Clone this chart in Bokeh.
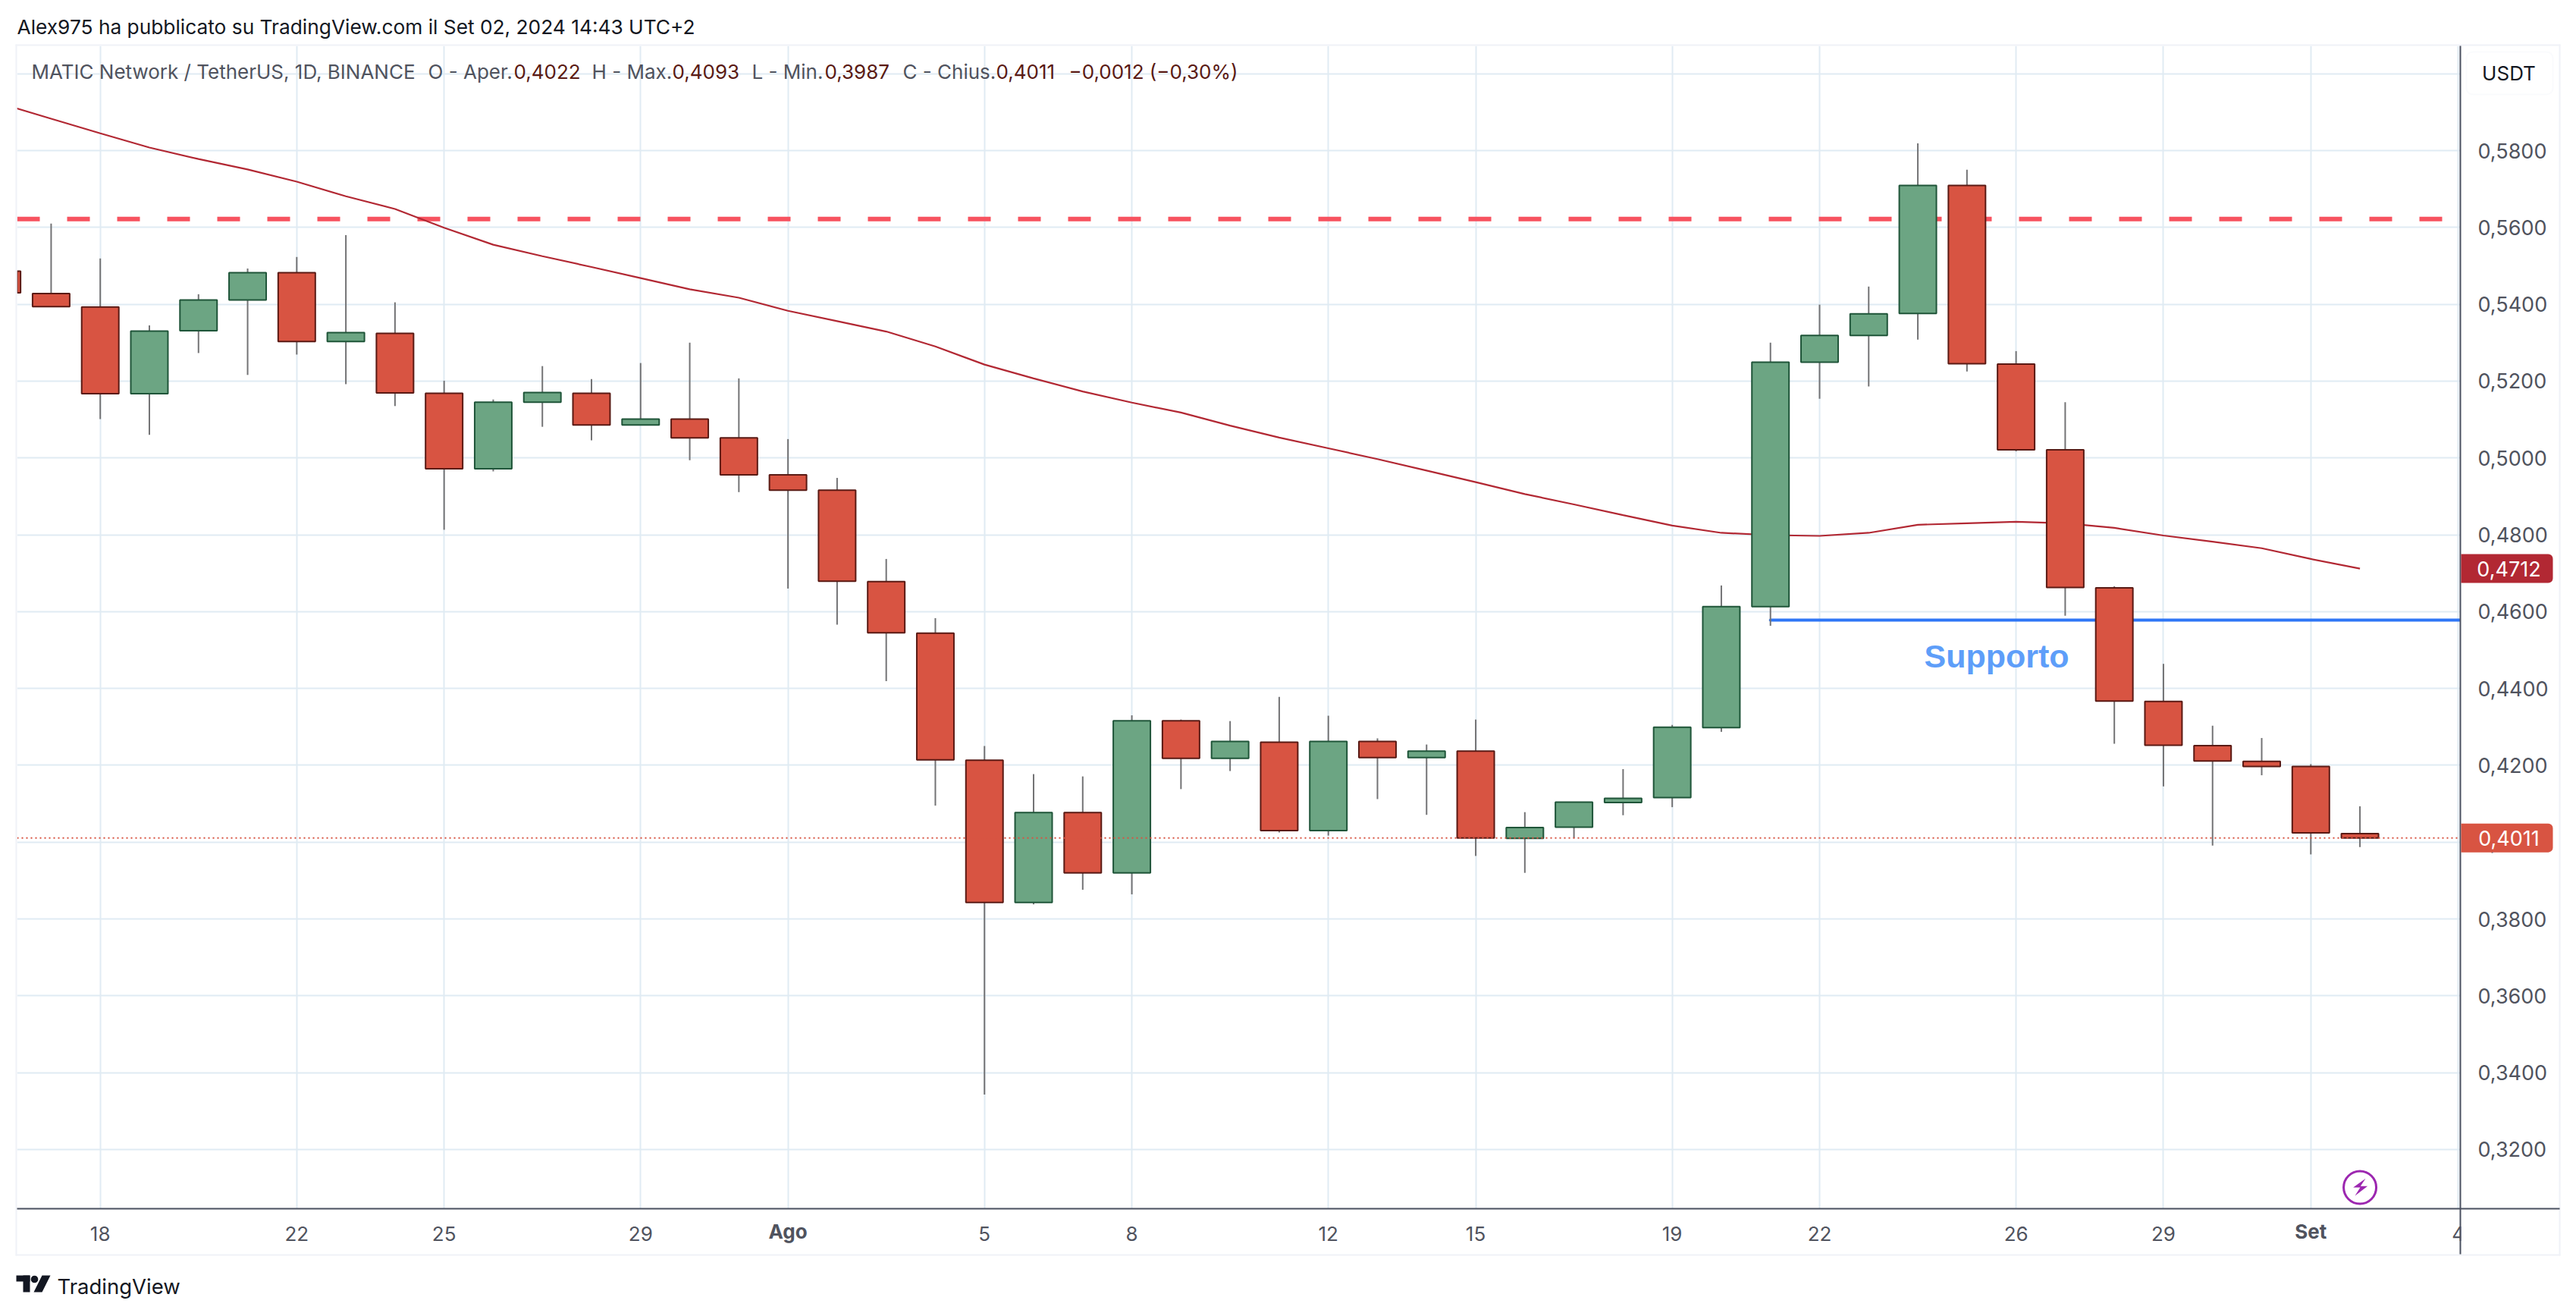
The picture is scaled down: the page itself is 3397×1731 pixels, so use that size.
import math
from bokeh.plotting import figure
from bokeh.layouts import column
from bokeh.models import FixedTicker, Grid, BoxAnnotation, LinearAxis, Range1d, ColumnDataSource
from bokeh.core.properties import value
from bokeh.embed import file_html
from bokeh.resources import INLINE

# ---- data ----
days = list(range(-2, 47))
opens = [.5486,.5428,.5393,.5167,.5331,.5411,.5482,.5303,.5324,.5168,.4972,.5145,.5168,.5086,.5101,.5052,.4956,.4916,.4678,.4544,.4213,.3843,.4077,.3920,.4316,.4218,.4260,.4030,.4262,.4220,.4237,.4010,.4039,.4103,.4116,.4298,.4613,.5249,.5319,.5376,.5709,.5244,.5021,.4662,.4366,.4251,.4210,.4197,.4022]
highs = [.5500,.5610,.5519,.5345,.5426,.5493,.5523,.5580,.5405,.5201,.5152,.5239,.5205,.5247,.5300,.5207,.5049,.4948,.4737,.4583,.4250,.4177,.4171,.4330,.4319,.4315,.4378,.4329,.4270,.4254,.4319,.4078,.4104,.4190,.4305,.4668,.5300,.5399,.5446,.5819,.5750,.5278,.5145,.4666,.4464,.4303,.4271,.4203,.4093]
lows = [.5430,.5394,.5101,.5060,.5273,.5216,.5269,.5192,.5135,.4813,.4965,.5081,.5046,.5086,.4994,.4911,.4660,.4566,.4419,.4095,.3343,.3838,.3876,.3864,.4138,.4185,.4025,.4017,.4112,.4071,.3964,.3920,.4010,.4070,.4091,.4287,.4563,.5154,.5186,.5308,.5225,.5017,.4589,.4256,.4145,.3991,.4174,.3968,.3987]
closes = [.5430,.5394,.5167,.5330,.5411,.5482,.5303,.5326,.5169,.4972,.5145,.5170,.5086,.5101,.5052,.4956,.4916,.4679,.4545,.4214,.3843,.4077,.3920,.4316,.4218,.4262,.4030,.4262,.4220,.4237,.4011,.4038,.4104,.4114,.4299,.4613,.5249,.5319,.5375,.5709,.5245,.5021,.4663,.4367,.4252,.4211,.4197,.4024,.4011]
ma_days = [-2,-1,0,1,2,3,4,5,6,7,8,9,10,11,12,13,14,15,16,17,18,19,20,21,22,23,24,25,26,27,28,29,30,31,32,33,34,35,36,37,38,39,40,41,42,43,44,45,46]
ma_vals = [.5921,.5883,.5845,.5808,.5778,.5751,.5719,.5681,.5648,.5599,.5555,.5525,.5497,.5468,.5439,.5417,.5383,.5356,.5329,.5290,.5243,.5207,.5173,.5144,.5118,.5084,.5053,.5025,.4997,.4967,.4937,.4906,.4879,.4851,.4824,.4805,.4799,.4797,.4805,.4826,.4830,.4834,.4830,.4818,.4798,.4782,.4765,.4737,.4712]
resistance = .5622
support = .4578
support_start = 34
last_price = .4011
ma_last = .4712
grid_y = [.32,.34,.36,.38,.40,.42,.44,.46,.48,.50,.52,.54,.56,.58,.60]
y_ticks = [.32,.34,.36,.38,.40,.42,.44,.46,.48,.50,.52,.54,.56,.58]
y_labels = ["0,%04d" % round(v * 10000) for v in y_ticks]
x_ticks = {0:"18",4:"22",7:"25",11:"29",18:"5",21:"8",25:"12",28:"15",32:"19",35:"22",39:"26",42:"29",48:"4"}
x_bold = {14:"Ago",45:"Set"}

FONT = "Inter"
W, H = 3381, 1715
RED, RED_B = "#d85442", "#5a1a14"
GREEN, GREEN_B = "#6ca583", "#1f5539"
GRID = "#e0ebf3"
BORDER = "#f0f2f7"
AXIS = "#4a5060"
TEXT = "#50535e"
DARK = "#131722"

L, R, T, B = 22, 3244, 60, 1593   # pane edges in page pixels

def vy(px): return .58 - (px - 198) / 5065
def py(v): return 198 + (.58 - v) * 5065
def dx(px): return (px - 131.7) / 64.78
def pd(d): return 131.7 + 64.78 * d

# ---- the chart itself ----
p = figure(width=W, height=H, output_backend="svg", toolbar_location=None, frame_align=False,
           x_range=Range1d(dx(L), dx(R)), y_range=Range1d(vy(B), vy(T)),
           min_border_left=L, min_border_right=W - R, min_border_top=T, min_border_bottom=H - B,
           x_axis_location=None, y_axis_location=None, background_fill_color="white", outline_line_color=None)
p.grid.visible = False

all_x = sorted(list(x_ticks) + list(x_bold))
p.add_layout(Grid(dimension=0, ticker=FixedTicker(ticks=all_x), grid_line_color=GRID, grid_line_width=2))
p.add_layout(Grid(dimension=1, ticker=FixedTicker(ticks=grid_y), grid_line_color=GRID, grid_line_width=2))

xa = LinearAxis(ticker=FixedTicker(ticks=list(x_ticks)), major_label_overrides={k: v for k, v in x_ticks.items()},
                axis_line_color=None, major_tick_line_color=None, minor_tick_line_color=None,
                major_label_standoff=17, major_label_text_font=FONT, major_label_text_font_size="26px",
                major_label_text_color=TEXT)
p.add_layout(xa, "below")
ya = LinearAxis(ticker=FixedTicker(ticks=y_ticks), major_label_overrides=dict(zip(y_ticks, y_labels)),
                axis_line_color=None, major_tick_line_color=None, minor_tick_line_color=None,
                major_label_standoff=17, major_label_text_font=FONT, major_label_text_font_size="27px",
                major_label_text_color=TEXT)
p.add_layout(ya, "right")

p.line([dx(L), dx(R)], [resistance, resistance], line_color="#f7525f", line_width=6, line_dash="30 36")
p.line(ma_days, ma_vals, line_color="#b22833", line_width=2.2)
p.line([support_start, dx(R)], [support, support], line_color="#2e76f6", line_width=4, line_cap="round")

up = [c >= o for o, c in zip(opens, closes)]
src = ColumnDataSource(dict(x=days, o=opens, h=highs, l=lows, c=closes,
                            top=[max(a, b) for a, b in zip(opens, closes)],
                            bot=[min(a, b) for a, b in zip(opens, closes)],
                            fill=[GREEN if u else RED for u in up],
                            edge=[GREEN_B if u else RED_B for u in up]))
p.segment("x", "h", "x", "l", source=src, line_color="#737375", line_width=2)
p.vbar("x", 0.756, "bot", "top", source=src, fill_color="fill", line_color="edge", line_width=2)

p.line([dx(L), dx(R)], [last_price, last_price], line_color="#d85442", line_width=2, line_dash="2 4")

p.text([dx(2537)], [vy(864)], text=["Supporto"], text_font=value("Liberation Sans"), text_font_style="bold",
       text_font_size="43px", text_color="#5e9ef9", text_align="left", text_baseline="middle")

# ---- a transparent sheet over it, in page pixels, for everything around the pane ----
c = figure(width=W, height=H, output_backend="svg", toolbar_location=None, frame_align=False,
           x_range=Range1d(0, W), y_range=Range1d(H, 0),
           min_border_left=0, min_border_right=0, min_border_top=0, min_border_bottom=0,
           x_axis_location=None, y_axis_location=None, outline_line_color=None,
           background_fill_alpha=0, border_fill_alpha=0, margin=(-H, 0, 0, 0))
c.grid.visible = False

def box(l, r, t, b, color, radius=0, line=None, lw=0):
    c.add_layout(BoxAnnotation(left=l, right=r, top=t, bottom=b, fill_color=color, fill_alpha=1, level="underlay",
                               line_color=line, line_width=lw, border_radius=radius, editable=False))

def label(x, y, text, color=TEXT, size=26, align="left", bold=False):
    c.text([x], [y], text=[text], text_color=color, text_font=value(FONT), text_font_size=f"{size}px",
           text_align=align, text_baseline="middle", text_font_style="bold" if bold else "normal")

def poly(points, color):
    c.patch([a for a, b in points], [b for a, b in points], fill_color=color, line_color=None)

box(3245, 3374, 1594, 1653, "white")
box(20, 3376, 58, 60, BORDER)
box(20, 3376, 1653, 1655, BORDER)
box(20, 22, 58, 1655, BORDER)
box(3374, 3376, 58, 1655, BORDER)
box(3243, 3245, 60, 1653, AXIS)
box(22, 3375, 1592, 1594, AXIS)

box(3245, 3366, py(ma_last) - 19, py(ma_last) + 19, "#b22833", radius=(0, 6, 6, 0))
label(3308, py(ma_last), "0,4712", "white", size=27, align="center")
box(3245, 3366, py(last_price) - 19, py(last_price) + 19, "#d85442", radius=(0, 6, 6, 0))
label(3308, py(last_price), "0,4011", "white", size=27, align="center")

box(3252, 3366, 68, 124, "white", radius=8, line=BORDER, lw=2)
label(3308, 96, "USDT", DARK, align="center")

for d, t in x_bold.items():
    label(pd(d), 1623, t, align="center", bold=True)

label(22, 35, "Alex975 ha pubblicato su TradingView.com il Set 02, 2024 14:43 UTC+2", DARK, size=26.3)
label(41, 94, "MATIC Network / TetherUS, 1D, BINANCE")
for x, t in [(564, "O - Aper."), (780, "H - Max."), (991, "L - Min."), (1190, "C - Chius.")]:
    label(x, 94, t)
for x, t in [(677, "0,4022"), (886, "0,4093"), (1087, "0,3987"), (1313, "0,4011"), (1409, "\u22120,0012 (\u22120,30%)")]:
    label(x, 94, t, RED_B)

# lightning badge
c.scatter([pd(46)], [1565], size=43, marker="circle", fill_color="white", line_color="#9c27b0", line_width=3)
poly([(2900 + a / 3, 1400 + b / 3) for a, b in [(657,460),(608,495),(636,495),(615,528),(665,490),(637,490)]], "#9c27b0")

# TradingView mark
box(21, 39, 1681, 1689, DARK)
box(30, 39, 1681, 1703, DARK)
poly([(45 + 4.8 * math.cos(i * math.pi / 8), 1686 + 4.8 * math.sin(i * math.pi / 8)) for i in range(16)], DARK)
poly([(55, 1681), (66, 1681), (55, 1703), (44, 1703)], DARK)
label(75, 1695, "TradingView", DARK, size=27.5)

open("out.html", "w").write(file_html(column(p, c), INLINE))
